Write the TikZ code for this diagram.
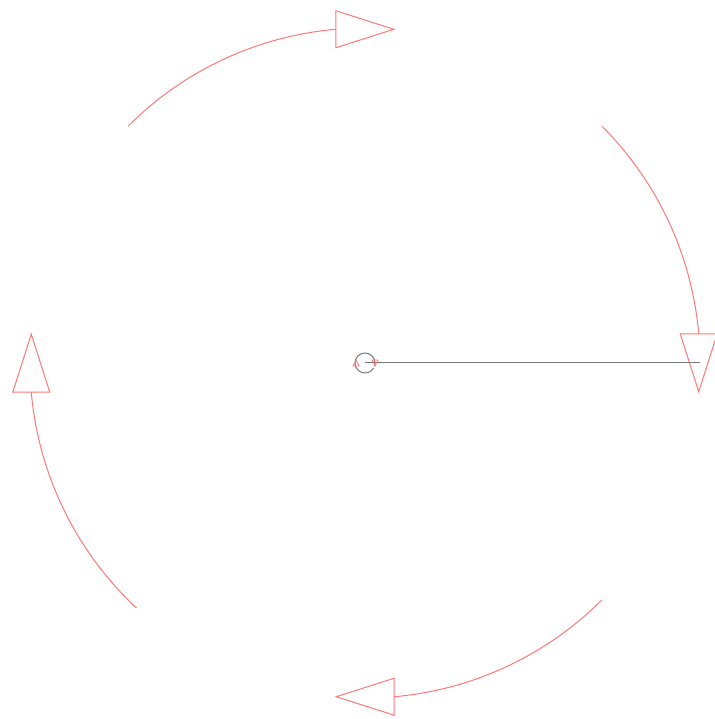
\documentclass[tikz,border=0pt]{standalone}
\usetikzlibrary{calc}
\definecolor{arcred}{RGB}{255,120,120}
\definecolor{axisgray}{RGB}{120,120,120}
\tikzset{
  arcline/.style={draw=arcred, line width=1pt},
  headline/.style={draw=arcred, line width=1pt, fill=white, line join=miter},
  axisline/.style={draw=axisgray, line width=1pt},
}
\begin{document}
\begin{tikzpicture}[x=1pt,y=1pt]
\useasboundingbox (0,0) rectangle (714,719);
\coordinate (c) at (365,356);
% #1 start angle, #2 end angle, #3 head direction
\newcommand{\cwarc}[3]{%
  \draw[arcline] ($(c)+(#1:335)$) arc[start angle=#1, end angle=#2, radius=335];
  \coordinate (e) at ($(c)+(#2:335)$);
  \draw[headline] ($(e)+(#3+90:18.5)$) -- ($(e)+(#3:58)$) -- ($(e)+(#3-90:18.5)$) -- cycle;
}
\cwarc{45}{5}{-90}
\cwarc{135}{95}{0}
\cwarc{227}{185}{90}
\cwarc{315}{275}{180}
% center
\coordinate (tipend) at (700,356);
\draw[axisline] (c) -- (tipend);
\draw[axisgray, line width=1pt] ([shift={(-20:10)}]c) arc[start angle=-20, end angle=330, radius=10];
\draw[arcred, line width=0.8pt] (353,353) -- (356,359) -- (359,353) -- cycle;
\draw[arcred, line width=0.8pt] (372,359) -- (375,353) -- (378,359) -- cycle;
\end{tikzpicture}
\end{document}
